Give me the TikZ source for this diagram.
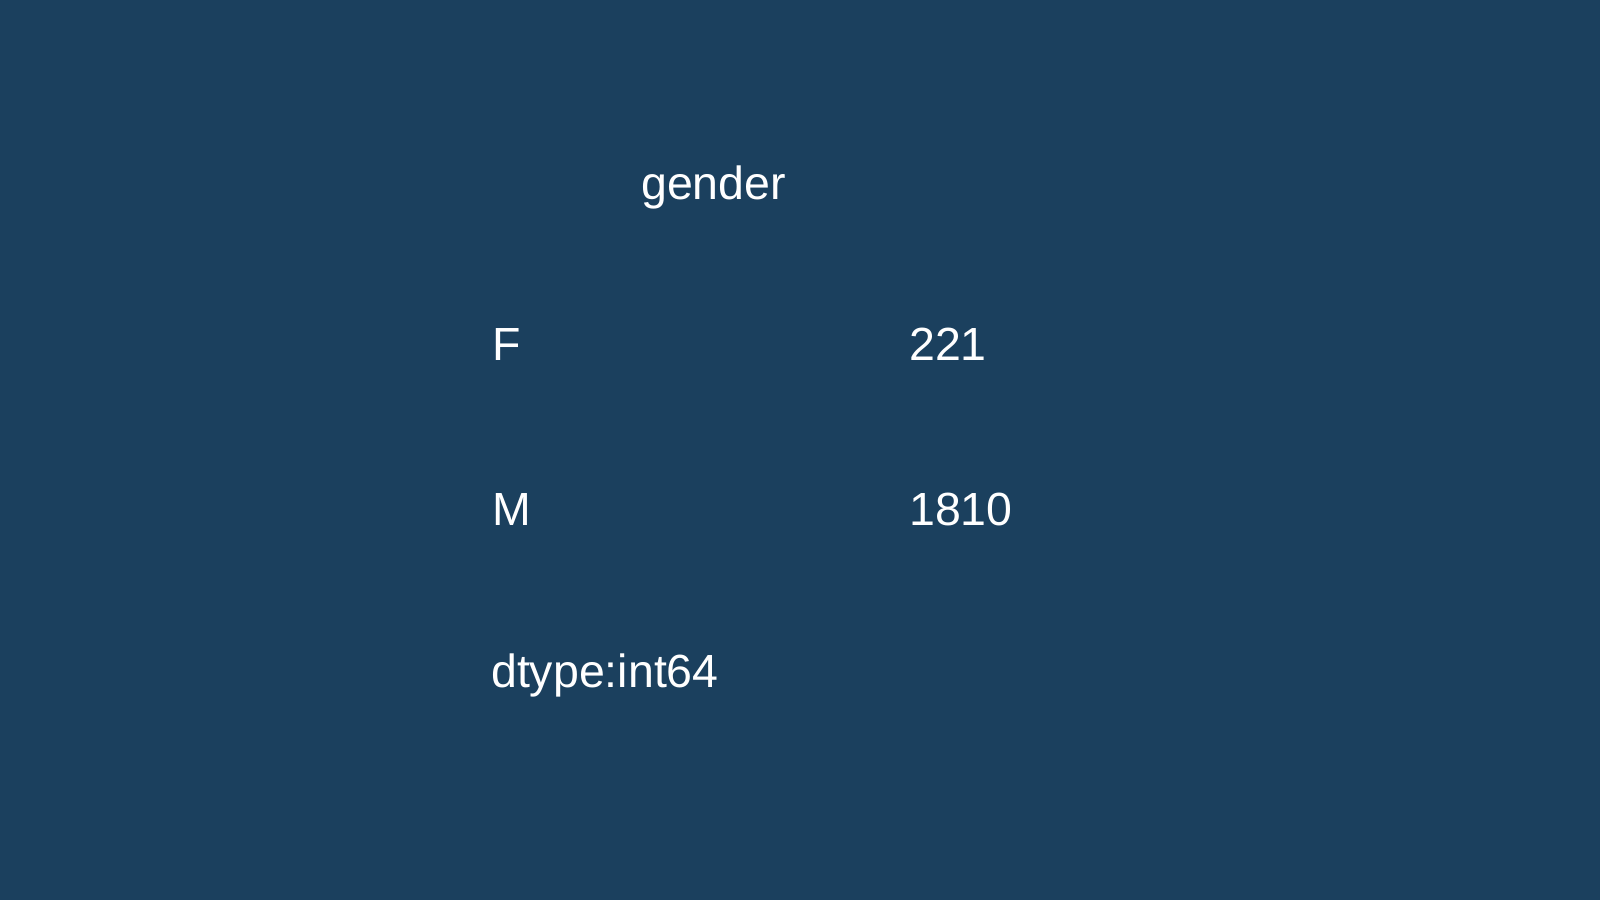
\documentclass[tikz,border=0pt]{standalone}
\usepackage{fontspec}
\setmainfont{Liberation Sans}
\definecolor{bgc}{HTML}{1B405E}
\begin{document}
\begin{tikzpicture}[x=1pt,y=-1pt,
  txt/.style={anchor=base west,inner sep=0pt,text=white,font=\fontsize{46.5}{54}\selectfont}]
\fill[bgc] (0,0) rectangle (1600,900);
\useasboundingbox (0,0) rectangle (1600,900);
\node[txt] (title) at (641,199) {gender};
\node[txt] (kf) at (492,360) {F};
\node[txt] (vf) at (909,360) {221};
\node[txt] (km) at (492,525) {M};
\node[txt] (vm) at (909,525) {1810};
\node[txt] (dt) at (491,687) {dtype:int64};
\end{tikzpicture}
\end{document}
